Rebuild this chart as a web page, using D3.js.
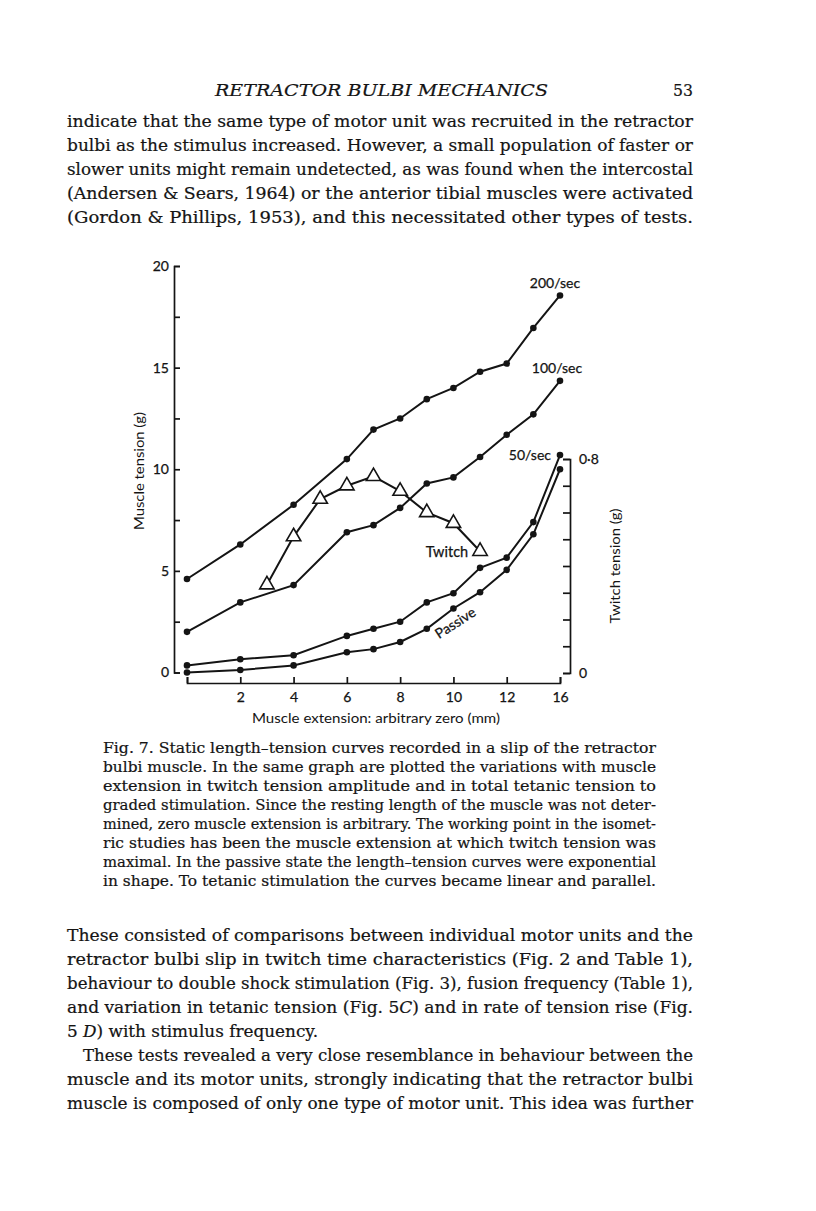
<!DOCTYPE html>
<html>
<head>
<meta charset="utf-8">
<script src="https://cdn.jsdelivr.net/npm/d3@7"></script>
<style>
  body { margin: 0; background: #fff; }
</style>
</head>
<body>
<svg id="page"></svg>
<script>
// Muscle extension positions (axis units, last tick is printed as "16")
const extension = [0, 2, 4, 6, 7, 8, 9, 10, 11, 12, 13, 14];
const tension200 = [4.6, 6.3, 8.25, 10.5, 11.95, 12.5, 13.45, 14.0, 14.8, 15.2, 16.95, 18.55];
const tension100 = [2.0, 3.45, 4.3, 6.9, 7.25, 8.1, 9.3, 9.6, 10.6, 11.7, 12.7, 14.35];
const tension50 = [0.35, 0.65, 0.85, 1.8, 2.15, 2.5, 3.45, 3.9, 5.15, 5.65, 7.4, 10.7];
const tensionPassive = [0, 0.12, 0.35, 1.0, 1.15, 1.5, 2.15, 3.15, 3.95, 5.05, 6.8, 10.0];

const twitchExtension = [3, 4, 5, 6, 7, 8, 9, 10, 11];
const twitchTension = [0.33, 0.51, 0.65, 0.70, 0.735, 0.68, 0.60, 0.56, 0.455];

const xTicks = [0, 2, 4, 6, 8, 10, 12, 14];
const xTickLabels = ['', '2', '4', '6', '8', '10', '12', '16'];
const yTicks = [0, 2.5, 5, 7.5, 10, 12.5, 15, 17.5, 20];
const yTickLabels = ['0', '', '5', '', '10', '', '15', '', '20'];
const twitchTicks = [0, 0.1, 0.2, 0.3, 0.4, 0.5, 0.6, 0.7, 0.8];
const twitchTickLabels = ['0', '', '', '', '', '', '', '', '0·8'];

// Page text
const headLine = 'RETRACTOR BULBI MECHANICS';
const pageNumber = '53';
const topLines = [
  'indicate that the same type of motor unit was recruited in the retractor',
  'bulbi as the stimulus increased. However, a small population of faster or',
  'slower units might remain undetected, as was found when the intercostal',
  '(Andersen & Sears, 1964) or the anterior tibial muscles were activated',
  '(Gordon & Phillips, 1953), and this necessitated other types of tests.'
];
const captionLines = [
  'Fig. 7. Static length–tension curves recorded in a slip of the retractor',
  'bulbi muscle. In the same graph are plotted the variations with muscle',
  'extension in twitch tension amplitude and in total tetanic tension to',
  'graded stimulation. Since the resting length of the muscle was not deter-',
  'mined, zero muscle extension is arbitrary. The working point in the isomet-',
  'ric studies has been the muscle extension at which twitch tension was',
  'maximal. In the passive state the length–tension curves were exponential',
  'in shape. To tetanic stimulation the curves became linear and parallel.'
];
const bottomLines = [
  'These consisted of comparisons between individual motor units and the',
  'retractor bulbi slip in twitch time characteristics (Fig. 2 and Table 1),',
  'behaviour to double shock stimulation (Fig. 3), fusion frequency (Table 1),',
  'and variation in tetanic tension (Fig. 5*C*) and in rate of tension rise (Fig.',
  '5 *D*) with stimulus frequency.',
  'These tests revealed a very close resemblance in behaviour between the',
  'muscle and its motor units, strongly indicating that the retractor bulbi',
  'muscle is composed of only one type of motor unit. This idea was further'
];

const W = 816, H = 1211;
const ink = '#141414';
const serif = '"DejaVu Serif", serif';
const sans = 'Lato, "Open Sans", sans-serif';

const svg = d3.select('#page').attr('width', W).attr('height', H);
svg.append('rect').attr('width', W).attr('height', H).attr('fill', '#fff');

// one line of print, optionally stretched to a justified width; *x* = italic
function printLine(x, y, str, size, width, italic) {
  const t = svg.append('text')
    .attr('x', x).attr('y', y)
    .attr('font-family', serif)
    .attr('font-size', size)
    .attr('font-style', italic ? 'italic' : null)
    .attr('fill', ink)
    .attr('stroke', ink).attr('stroke-width', 0.2);
  if (width) t.attr('textLength', width).attr('lengthAdjust', 'spacingAndGlyphs');
  str.split('*').forEach((part, i) => {
    if (!part) return;
    t.append('tspan').attr('font-style', i % 2 ? 'italic' : null).text(part);
  });
  return t;
}

// Running head
printLine(215, 96, headLine, 17, 333, true);
printLine(673, 96, pageNumber, 17, 20, false);

topLines.forEach((s, i) => printLine(67, 127 + i * 24, s, 16, 626));
captionLines.forEach((s, i) => printLine(103, 753 + i * 19, s, 14, 553));
bottomLines.forEach((s, i) => {
  if (i === 4) printLine(67, 941 + i * 24, s, 16, 251);
  else if (i === 5) printLine(83, 941 + i * 24, s, 16, 610);
  else printLine(67, 941 + i * 24, s, 16, 626);
});

// Chart
const x = d3.scaleLinear().domain([0, 14]).range([187, 560]);
const y = d3.scaleLinear().domain([0, 20]).range([672.5, 266]);
const yR = d3.scaleLinear().domain([0, 0.8]).range([673, 459]);

const chart = svg.append('g')
  .attr('font-family', sans)
  .attr('fill', ink);

function styleAxis(g) {
  g.selectAll('path, line').attr('stroke', ink).attr('stroke-width', 1.7);
  g.selectAll('text').attr('fill', ink).attr('font-size', 14).attr('font-family', sans)
    .attr('stroke', ink).attr('stroke-width', 0.25);
}

chart.append('g')
  .attr('transform', 'translate(174,0)')
  .call(d3.axisLeft(y).tickValues(yTicks)
    .tickFormat((d, i) => yTickLabels[i])
    .tickSizeInner(-6).tickSizeOuter(-6).tickPadding(5))
  .call(styleAxis);

chart.append('g')
  .attr('transform', 'translate(0,683)')
  .call(d3.axisBottom(x).tickValues(xTicks)
    .tickFormat((d, i) => xTickLabels[i])
    .tickSizeInner(-6).tickSizeOuter(-6).tickPadding(9))
  .call(styleAxis);

chart.append('g')
  .attr('transform', 'translate(570,0)')
  .call(d3.axisRight(yR).tickValues(twitchTicks)
    .tickFormat((d, i) => twitchTickLabels[i])
    .tickSizeInner(-7).tickSizeOuter(-7).tickPadding(9))
  .call(styleAxis);

// Axis titles
chart.append('text')
  .attr('transform', 'translate(144,471) rotate(-90)')
  .attr('text-anchor', 'middle').attr('font-size', 14)
  .attr('textLength', 118).attr('lengthAdjust', 'spacingAndGlyphs')
  .text('Muscle tension (g)');
chart.append('text')
  .attr('transform', 'translate(620,566) rotate(-90)')
  .attr('text-anchor', 'middle').attr('font-size', 14)
  .attr('textLength', 115).attr('lengthAdjust', 'spacingAndGlyphs')
  .text('Twitch tension (g)');
chart.append('text')
  .attr('x', 376).attr('y', 723)
  .attr('text-anchor', 'middle').attr('font-size', 14)
  .attr('textLength', 248).attr('lengthAdjust', 'spacingAndGlyphs')
  .text('Muscle extension: arbitrary zero (mm)');

// Tension curves with dots
const line = d3.line().x(d => x(d[0])).y(d => y(d[1]));
[tension200, tension100, tension50, tensionPassive].forEach(series => {
  const pts = extension.map((e, i) => [e, series[i]]);
  chart.append('path')
    .attr('d', line(pts))
    .attr('fill', 'none').attr('stroke', ink).attr('stroke-width', 2);
  chart.selectAll(null).data(pts).enter().append('circle')
    .attr('cx', d => x(d[0])).attr('cy', d => y(d[1]))
    .attr('r', 3.3).attr('fill', ink);
});

// Twitch curve with open triangles
const twitchPts = twitchExtension.map((e, i) => [e, twitchTension[i]]);
chart.append('path')
  .attr('d', d3.line().x(d => x(d[0])).y(d => yR(d[1]))(twitchPts))
  .attr('fill', 'none').attr('stroke', ink).attr('stroke-width', 2);
chart.selectAll(null).data(twitchPts).enter().append('path')
  .attr('d', d3.symbol(d3.symbolTriangle, 90))
  .attr('transform', d => `translate(${x(d[0])},${yR(d[1])})`)
  .attr('fill', '#fff').attr('stroke', ink).attr('stroke-width', 1.6);

// Curve labels
chart.selectAll('g.labels').data([0]).enter().append('g')
  .attr('stroke', ink).attr('stroke-width', 0.25)
  .call(g => {
    g.append('text').attr('x', 555).attr('y', 288).attr('text-anchor', 'middle')
      .attr('font-size', 14).text('200/sec');
    g.append('text').attr('x', 557).attr('y', 373).attr('text-anchor', 'middle')
      .attr('font-size', 14).text('100/sec');
    g.append('text').attr('x', 551).attr('y', 460).attr('text-anchor', 'end')
      .attr('font-size', 14).text('50/sec');
    g.append('text').attr('x', 447).attr('y', 557).attr('text-anchor', 'middle')
      .attr('font-size', 14.5).text('Twitch');
    g.append('text')
      .attr('transform', 'translate(458,627) rotate(-33)')
      .attr('text-anchor', 'middle').attr('font-size', 14).text('Passive');
  });
</script>
</body>
</html>
